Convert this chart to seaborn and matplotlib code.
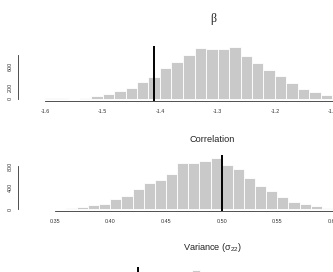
import matplotlib
matplotlib.use("Agg")
import matplotlib.pyplot as plt
import seaborn as sns

# beta posterior draws, binned (bin width 0.02)
beta_edges = [-1.60 + 0.02 * i for i in range(26)]
beta_counts = [4, 2, 0, 10, 50, 80, 130, 195, 310, 400, 570, 680, 815, 940,
               915, 915, 945, 795, 665, 530, 420, 295, 185, 122, 62]
beta_line = -1.41
beta_ticks = [-1.6, -1.5, -1.4, -1.3, -1.2, -1.1]

# correlation draws, binned (bin width 0.01)
corr_edges = [0.35 + 0.01 * i for i in range(26)]
corr_counts = [3, 25, 43, 75, 100, 183, 245, 369, 487, 540, 660, 850, 850,
               900, 942, 828, 747, 580, 434, 338, 220, 136, 90, 50, 25]
corr_line = 0.50
corr_ticks = [0.35, 0.40, 0.45, 0.50, 0.55, 0.60]

# variance (sigma_22) draws, binned (only the top is visible)
var_edges = [0.70 + 0.02 * i for i in range(36)]
var_counts = [2, 5, 9, 16, 28, 45, 70, 105, 150, 205, 270, 345, 420, 500,
              580, 650, 710, 760, 833, 765, 740, 700, 640, 580, 510, 440,
              370, 300, 240, 185, 140, 100, 70, 45, 30]
var_line = 0.93
var_ticks = [0.8, 1.0, 1.2, 1.4]

sns.set_style("white")
plt.rcParams["font.family"] = ["Liberation Sans", "DejaVu Sans"]
plt.rcParams["mathtext.fontset"] = "custom"
plt.rcParams["mathtext.rm"] = "Liberation Sans"

W, H = 333, 272
fig = plt.figure(figsize=(W / 100, H / 100), dpi=100)

bar_col = "#c9c9c9"
ax_col = "#333333"


def panel(top_px, bottom_px, xlim, ylim, edges, counts, line, xticks, ylabels):
    ax = fig.add_axes([0, 1 - bottom_px / H, 1, (bottom_px - top_px) / H])
    centers = [(a + b) / 2 for a, b in zip(edges[:-1], edges[1:])]
    sns.histplot(x=centers, weights=list(counts), bins=list(edges), ax=ax,
                 color=bar_col, edgecolor="white", linewidth=0.6, alpha=1)
    ax.axvline(line, color="black", lw=1.4)
    ax.set_xlim(xlim)
    ax.set_ylim(ylim)
    ax.set_xlabel("")
    ax.set_ylabel("")
    ax.patch.set_alpha(0)
    for s in ["top", "right"]:
        ax.spines[s].set_visible(False)
    ax.spines["left"].set_position(("axes", 18 / W))
    ax.spines["left"].set_bounds(0, 800)
    ax.spines["bottom"].set_bounds(xticks[0], xticks[-1])
    for s in ["left", "bottom"]:
        ax.spines[s].set_color(ax_col)
        ax.spines[s].set_linewidth(0.6)
    ax.set_xticks(xticks)
    ax.set_yticks([0, 200, 400, 600, 800])
    ax.set_yticklabels(ylabels, rotation=90, va="center")
    ax.tick_params(axis="both", length=1.5, width=0.5, color=ax_col,
                   labelsize=3.9, labelcolor="#333333")
    ax.tick_params(axis="x", pad=4.5)
    ax.tick_params(axis="y", pad=2)
    return ax


# beta: -1.6 at 45 px, 0.1 per 57.5 px
bx0 = -1.6 - 45 / 575
ax1 = panel(45.6, 100.5, (bx0, bx0 + W / 575), (-37, 980),
            beta_edges, beta_counts, beta_line, beta_ticks,
            ["0", "200", "", "600", ""])
ax1.set_xticklabels(["-1.6", "-1.5", "-1.4", "-1.3", "-1.2", "-1.1"])

# correlation: 0.35 at 56.5 px, 0.05 per 57.5 px
cx0 = 0.35 - 56.5 / 1150
ax2 = panel(155, 211, (cx0, cx0 + W / 1150), (-37, 1005),
            corr_edges, corr_counts, corr_line, corr_ticks,
            ["0", "", "400", "", "800"])
ax2.set_xticklabels(["0.35", "0.40", "0.45", "0.50", "0.55", "0.60"])

# variance: cropped at the bottom of the image, no labels in view
vx0 = 1.06 - 192 / 415
ax3 = panel(267, 317, (vx0, vx0 + W / 415), (-37, 889),
            var_edges, var_counts, var_line, var_ticks,
            ["", "", "", "", ""])
ax3.set_xticklabels(["", "", "", ""])

fig.text(213 / W, 1 - 19 / H, "β", ha="center", va="center", fontsize=8.5,
         family=["Liberation Serif", "DejaVu Serif"], color="#222222")
fig.text(212 / W, 1 - 139 / H, "Correlation", ha="center", va="center",
         fontsize=6.6, color="#222222")
fig.text(212.5 / W, 1 - 248 / H, "Variance (σ$_{22}$)", ha="center",
         va="center", fontsize=6.6, color="#222222")

fig.savefig("out.png", dpi=100)
